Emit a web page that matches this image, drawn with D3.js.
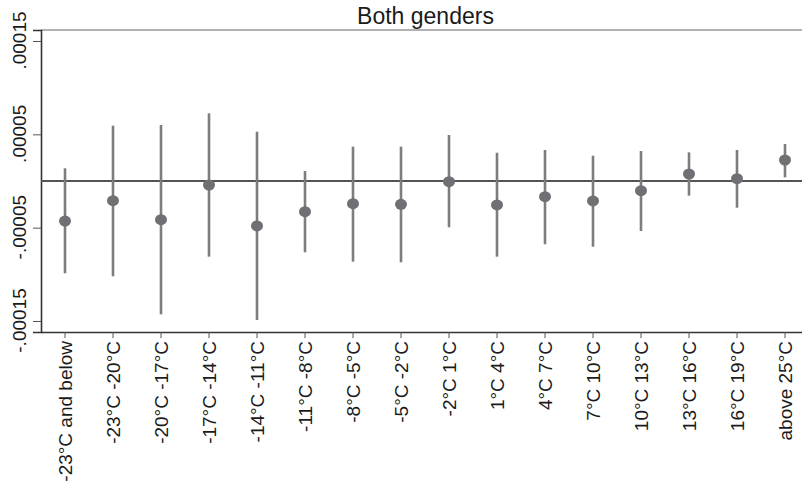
<!DOCTYPE html>
<html>
<head>
<meta charset="utf-8">
<script src="https://cdn.jsdelivr.net/npm/d3@7"></script>
<style>
  html, body { margin: 0; padding: 0; background: #fff; overflow: hidden; }
  #chart { width: 802px; height: 481px; }
  text { font-family: "Liberation Sans", Arial, sans-serif; }
</style>
</head>
<body>
<div id="chart"></div>
<script>
// categories and estimates (units of 1e-5)
const categories = ["-23°C and below", "-23°C -20°C", "-20°C -17°C", "-17°C -14°C", "-14°C -11°C",
                    "-11°C -8°C", "-8°C -5°C", "-5°C -2°C", "-2°C 1°C", "1°C 4°C", "4°C 7°C",
                    "7°C 10°C", "10°C 13°C", "13°C 16°C", "16°C 19°C", "above 25°C"];
const estimates = [-4.29, -2.11, -4.15, -0.43, -4.82, -3.29, -2.43, -2.50, -0.07, -2.57, -1.68, -2.14, -1.04, 0.75, 0.25, 2.25];
const ciUpper   = [1.36, 5.93, 6.00, 7.25, 5.28, 1.07, 3.68, 3.68, 4.93, 3.03, 3.32, 2.71, 3.21, 3.07, 3.32, 3.96];
const ciLower   = [-9.89, -10.21, -14.29, -8.11, -14.89, -7.64, -8.64, -8.71, -4.96, -8.11, -6.78, -7.04, -5.36, -1.57, -2.86, 0.39];
const yTicks    = [0.00015, 0.00005, -0.00005, -0.00015];
const yTickLabels = [".00015", ".00005", "-.00005", "-.00015"];
const title = "Both genders";

function CoefPlot() {
    let self = this;

    self.initialize = function(conf) {
        self.el = document.getElementById(conf.el);
        self.margin = {top: 30, right: -7, bottom: 149, left: 41};
        self.graphWidth = 802;
        self.graphHeight = 481;
        self.width = self.graphWidth - self.margin.left - self.margin.right;
        self.height = self.graphHeight - self.margin.top - self.margin.bottom;
        self.data = categories.map(function(c, i) {
            return {key: c, est: estimates[i] * 1e-5, lo: ciLower[i] * 1e-5, hi: ciUpper[i] * 1e-5};
        });
        self.parseData();
    }

    self.parseData = function() {
        self.xScale = d3.scaleBand()
                        .range([0, self.width])
                        .domain(categories);
        self.yScale = d3.scaleLinear()
                        .range([self.height, 0])
                        .domain([-0.0001618, 0.0001618]);
        self.render();
    }

    self.render = function() {
        self.svg = d3.select(self.el).append("svg")
                        .attr("width", self.graphWidth)
                        .attr("height", self.graphHeight)
                        .append("g")
                        .attr("transform", "translate(" + self.margin.left + "," + self.margin.top + ")");

        self.svg.append("text")
            .attr("x", self.width / 2 + 0.5)
            .attr("y", -6)
            .attr("text-anchor", "middle")
            .attr("font-size", 23)
            .attr("fill", "#1a1a1a")
            .text(title);

        // top border
        self.svg.append("line")
            .attr("x1", 0).attr("x2", self.width)
            .attr("y1", 0).attr("y2", 0)
            .attr("stroke", "#666").attr("stroke-width", 1.2);

        self.renderAxes();

        // zero line
        self.svg.append("line")
            .attr("x1", 0).attr("x2", self.width)
            .attr("y1", self.yScale(0)).attr("y2", self.yScale(0))
            .attr("stroke", "#555").attr("stroke-width", 2);

        self.renderMarks();
    }

    self.renderAxes = function() {
        let yAxis = self.svg.append("g")
            .attr("class", "y axis")
            .call(d3.axisLeft(self.yScale).tickValues(yTicks).tickSize(8)
                .tickFormat(function(d, i) { return yTickLabels[i]; }));
        yAxis.select(".domain").attr("stroke", "#333").attr("stroke-width", 1.6);
        yAxis.selectAll(".tick line").attr("stroke", "#555");
        yAxis.selectAll(".tick text")
            .attr("font-size", 19)
            .attr("fill", "#1a1a1a")
            .attr("text-anchor", "middle")
            .attr("x", 0).attr("dy", 0)
            .attr("transform", "translate(-15,-1) rotate(-90)");

        let xAxis = self.svg.append("g")
            .attr("class", "x axis")
            .attr("transform", "translate(0," + self.height + ")")
            .call(d3.axisBottom(self.xScale).tickSize(6).tickSizeOuter(0));
        xAxis.select(".domain").attr("stroke", "#333").attr("stroke-width", 1.6);
        xAxis.selectAll(".tick line").attr("stroke", "#555");
        xAxis.selectAll(".tick text")
            .attr("font-size", 19)
            .attr("fill", "#1a1a1a")
            .style("text-anchor", "end")
            .attr("x", 0).attr("y", 0)
            .attr("dx", "-9px")
            .attr("dy", "0.36em")
            .attr("transform", "rotate(-90)");
    }

    self.renderMarks = function() {
        let bw = self.xScale.bandwidth();

        self.svg.selectAll(".ci")
            .data(self.data)
            .enter().append("line")
            .attr("class", "ci")
            .attr("x1", function(d) { return self.xScale(d.key) + bw / 2; })
            .attr("x2", function(d) { return self.xScale(d.key) + bw / 2; })
            .attr("y1", function(d) { return self.yScale(d.hi); })
            .attr("y2", function(d) { return self.yScale(d.lo); })
            .attr("stroke", "#7d7d7f")
            .attr("stroke-width", 2.6);

        self.svg.selectAll(".pt")
            .data(self.data)
            .enter().append("ellipse")
            .attr("class", "pt")
            .attr("cx", function(d) { return self.xScale(d.key) + bw / 2; })
            .attr("cy", function(d) { return self.yScale(d.est); })
            .attr("rx", 6)
            .attr("ry", 5.5)
            .attr("fill", "#6f7074");
    }
}

new CoefPlot().initialize({el: "chart"});
</script>
</body>
</html>
